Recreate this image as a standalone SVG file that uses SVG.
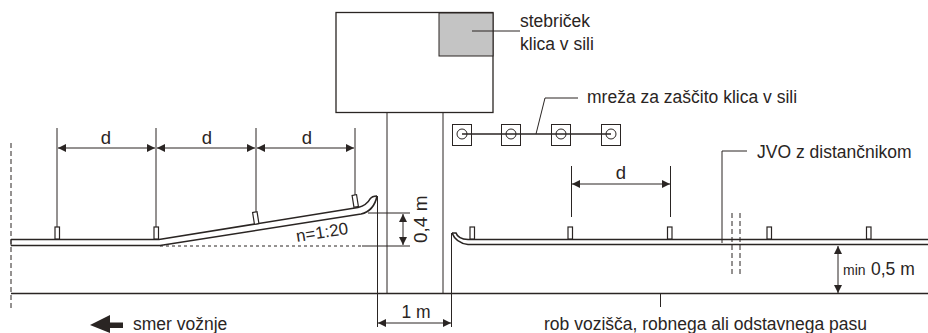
<svg xmlns="http://www.w3.org/2000/svg" width="928" height="333" viewBox="0 0 928 333">
<style>
.l{fill:none;stroke:#2a2523;stroke-width:1}
.m{fill:none;stroke:#2a2523;stroke-width:1.6}
.r{fill:none;stroke:#2a2523;stroke-width:1.3}
.p{fill:#fff;stroke:#2a2523;stroke-width:1.2}
.da{fill:none;stroke:#2a2523;stroke-width:1;stroke-dasharray:5 3}
.do{fill:none;stroke:#2a2523;stroke-width:1;stroke-dasharray:3 3}
text{font-family:"Liberation Sans",Arial,sans-serif;font-size:17.5px;fill:#2a2523}
.a{fill:#2a2523}
</style>
<defs>
<marker id="ah" viewBox="0 0 8 8" refX="8" refY="4" markerWidth="8" markerHeight="8" markerUnits="userSpaceOnUse" orient="auto-start-reverse"><path d="M0 0L8 4L0 8Z" class="a"/></marker>
</defs>
<g id="connectors">
<path class="da" d="M11 143V308"/>
<path class="m" d="M11 239.500H159L358 207.500Q367 205 370 199Q372 196 377 196"/>
<path class="m" d="M11 245.500H160L361 214Q374 211 377 196"/>
<path class="l" d="M11 239.500V245.500"/>
<path class="m" d="M11 293.500H928"/>
<path class="do" d="M160 246H362"/>
<path class="m" d="M452 233Q456 243 468 244.500H928"/>
<path class="m" d="M452 233H456Q458 239 468 239.500H928"/>
<path class="l" d="M57 128V227M156 128V227M256 128V212M355 128V195"/>
<path class="l" d="M58 148H155" marker-start="url(#ah)" marker-end="url(#ah)"/>
<path class="l" d="M157 148H255" marker-start="url(#ah)" marker-end="url(#ah)"/>
<path class="l" d="M257 148H354" marker-start="url(#ah)" marker-end="url(#ah)"/>
<path class="l" d="M368 213H410M362 246H410"/>
<path class="l" d="M403 214V245" marker-start="url(#ah)" marker-end="url(#ah)"/>
<path class="l" d="M377.500 196V327M451.500 233V327"/>
<path class="l" d="M378 323H451" marker-start="url(#ah)" marker-end="url(#ah)"/>
<path class="l" d="M571.500 166V217M670.500 166V217"/>
<path class="l" d="M572 184H670" marker-start="url(#ah)" marker-end="url(#ah)"/>
<path class="l" d="M747 151H722V243"/>
<path class="da" d="M732 213V275M740 213V275"/>
<path class="l" d="M838 246V293" marker-start="url(#ah)" marker-end="url(#ah)"/>
<path class="l" d="M660.500 294V307"/>
<path class="l" d="M536 134L545 98H578"/>
</g>
<g id="sign">
<rect class="r" x="336" y="12.500" width="157" height="100" fill="#fff"/>
<rect x="439" y="13" width="54" height="43" fill="#c4c4c4" stroke="#2a2523"/>
<path class="l" d="M472 31H520"/>
<path class="l" d="M387 113V293M443 113V293"/>
</g>
<g id="mesh">
<rect class="l" x="452.500" y="124.500" width="19" height="21"/>
<rect class="l" x="501.500" y="124.500" width="19" height="21"/>
<rect class="l" x="551.500" y="124.500" width="19" height="21"/>
<rect class="l" x="601.500" y="124.500" width="19" height="21"/>
<circle class="l" cx="462" cy="134" r="5"/>
<circle class="l" cx="511" cy="134" r="5"/>
<circle class="l" cx="561" cy="134" r="5"/>
<circle class="l" cx="611" cy="134" r="5"/>
<path class="m" d="M462 134H611"/>
</g>
<g id="posts">
<rect class="p" x="55" y="227" width="4.500" height="12"/>
<rect class="p" x="154" y="227" width="4.500" height="12"/>
<rect class="p" x="253.500" y="212" width="4.500" height="12" transform="rotate(-9 256 218)"/>
<rect class="p" x="353" y="195" width="4.500" height="12" transform="rotate(-9 355 201)"/>
<rect class="p" x="470" y="227" width="4.500" height="12"/>
<rect class="p" x="568" y="227" width="4.500" height="12"/>
<rect class="p" x="667.500" y="227" width="4.500" height="12"/>
<rect class="p" x="767" y="227" width="4.500" height="12"/>
<rect class="p" x="866.500" y="227" width="4.500" height="12"/>
</g>
<g id="direction">
<path class="a" d="M90 325L110 315V322.500H123V328H110V333Z"/>
<text x="133" y="330">smer vožnje</text>
</g>
<g id="labels">
<text x="106" y="144" text-anchor="middle" style="font-size:18.500px">d</text>
<text x="207" y="144" text-anchor="middle" style="font-size:18.500px">d</text>
<text x="307" y="144" text-anchor="middle" style="font-size:18.500px">d</text>
<text x="621" y="179" text-anchor="middle" style="font-size:18.500px">d</text>
<text x="520" y="27">stebriček</text>
<text x="520" y="50">klica v sili</text>
<text x="587" y="102.500">mreža za zaščito klica v sili</text>
<text x="757" y="158">JVO z distančnikom</text>
<text x="297" y="242" transform="rotate(-9 297 242)" style="font-size:17px">n=1:20</text>
<text x="427" y="243" transform="rotate(-90 427 243)" style="font-size:19px">0,4 m</text>
<text x="416" y="318" text-anchor="middle">1 m</text>
<text x="843" y="275" style="font-size:14px">min</text>
<text x="871" y="275">0,5 m</text>
<text x="544" y="330">rob vozišča, robnega ali odstavnega pasu</text>
</g>
</svg>
